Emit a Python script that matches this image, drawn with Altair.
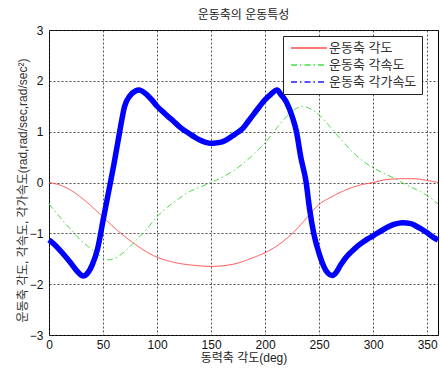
import altair as alt
import pandas as pd

# ---- data ----
S_ANG = "운동축 각도"
S_VEL = "운동축 각속도"
S_ACC = "운동축 각가속도"

ang_deg = [0, 10, 20, 30, 40, 50, 60, 70, 80, 90, 100, 110, 120, 130, 140, 150, 160, 170, 180,
           190, 200, 210, 220, 230, 240, 250, 260, 270, 280, 290, 300, 310, 320, 330, 340, 350, 360]
ang_val = [0.0, -0.05, -0.15, -0.3, -0.48, -0.68, -0.88, -1.06, -1.22, -1.36, -1.47, -1.54, -1.59,
           -1.62, -1.64, -1.65, -1.64, -1.61, -1.55, -1.47, -1.38, -1.26, -1.1, -0.9, -0.66, -0.43,
           -0.3, -0.19, -0.1, -0.04, 0.0, 0.05, 0.07, 0.075, 0.07, 0.04, 0.0]

vel_deg = [0, 10, 20, 30, 40, 50, 55, 60, 70, 80, 90, 100, 110, 120, 130, 140, 150, 160, 170, 180,
           190, 200, 210, 220, 230, 235, 240, 250, 260, 270, 280, 290, 300, 310, 320, 330, 340, 350, 360]
vel_val = [-0.42, -0.68, -0.92, -1.15, -1.32, -1.48, -1.52, -1.5, -1.36, -1.15, -0.93, -0.67, -0.48,
           -0.32, -0.18, -0.09, 0.0, 0.1, 0.22, 0.38, 0.57, 0.78, 1.05, 1.3, 1.47, 1.5, 1.47, 1.33,
           1.1, 0.85, 0.62, 0.43, 0.29, 0.18, 0.08, -0.04, -0.14, -0.26, -0.42]

acc_deg = [0, 5, 10, 15, 20, 25, 32, 35, 40, 45, 50, 55, 60, 65, 70, 75, 80, 83, 90, 95, 100, 105,
           110, 115, 120, 125, 130, 135, 140, 145, 150, 155, 160, 165, 170, 175, 180, 185, 190, 195,
           200, 205, 211, 215, 220, 225, 229, 233, 238, 241, 245, 250, 255, 258, 262, 265, 270, 275,
           280, 285, 290, 295, 300, 305, 310, 315, 320, 327, 335, 340, 345, 350, 355, 360]
acc_val = [-1.13, -1.22, -1.33, -1.45, -1.58, -1.72, -1.84, -1.8, -1.62, -1.3, -0.75, -0.2, 0.35,
           0.95, 1.5, 1.71, 1.8, 1.82, 1.74, 1.63, 1.5, 1.4, 1.3, 1.21, 1.11, 1.03, 0.96, 0.89, 0.83,
           0.79, 0.77, 0.78, 0.8, 0.85, 0.92, 0.99, 1.08, 1.22, 1.36, 1.5, 1.63, 1.73, 1.82, 1.72,
           1.57, 1.3, 1.0, 0.5, 0.0, -0.5, -1.0, -1.4, -1.68, -1.78, -1.83, -1.79, -1.62, -1.47,
           -1.36, -1.26, -1.18, -1.11, -1.05, -0.98, -0.92, -0.86, -0.82, -0.79, -0.81, -0.86, -0.92,
           -0.99, -1.07, -1.13]

x_ticks = [0, 50, 100, 150, 200, 250, 300, 350]
y_ticks = [-3, -2, -1, 0, 1, 2, 3]

series_order = [S_ANG, S_VEL, S_ACC]
series_colors = ["#ff4d4d", "#44e044", "#1a1aff"]
series_dash = [[1, 0], [6, 3, 1.5, 3], [6, 3, 1.5, 3]]

rows = []
for name, xs, ys in [(S_ANG, ang_deg, ang_val), (S_VEL, vel_deg, vel_val), (S_ACC, acc_deg, acc_val)]:
    for i, (xv, yv) in enumerate(zip(xs, ys)):
        rows.append({"series": name, "deg": xv, "val": yv, "order": i})
df = pd.DataFrame(rows)

FONT = "Liberation Sans, Arial, 'Noto Sans CJK KR'"

x_enc = alt.X("deg:Q", scale=alt.Scale(domain=[0, 360], nice=False),
              axis=alt.Axis(values=x_ticks, title="동력축 각도(deg)", titleFont=FONT,
                            titleFontSize=12, titleFontWeight="normal", titleColor="#222",
                            titleBaseline="alphabetic", titleY=26, labelFlush=False,
                            labelPadding=4))
y_enc = alt.Y("val:Q", scale=alt.Scale(domain=[-3, 3], nice=False),
              axis=alt.Axis(values=y_ticks,
                            title="운동축 각도, 각속도, 각가속도(rad,rad/sec,rad/sec²)",
                            titleFont=FONT, titleFontSize=12, titleFontWeight="normal",
                            titleColor="#333", titleBaseline="alphabetic", titleX=-23,
                            titleY=160, titleAngle=270, titleAlign="center",
                            labelPadding=6))

base = alt.Chart(df)

lines = base.mark_line(strokeWidth=1, interpolate="monotone").encode(
    x=x_enc,
    y=y_enc,
    order="order:Q",
    color=alt.Color("series:N", scale=alt.Scale(domain=series_order, range=series_colors),
                    legend=alt.Legend(title=None)),
    strokeDash=alt.StrokeDash("series:N", scale=alt.Scale(domain=series_order, range=series_dash),
                              legend=alt.Legend(title=None)),
)

thick = base.transform_filter(alt.datum.series == S_ACC).mark_line(
    strokeWidth=5.5, interpolate="monotone", color="#0000ff"
).encode(x="deg:Q", y="val:Q", order="order:Q")

chart = alt.layer(lines, thick).properties(
    width=389,
    height=305,
    autosize=alt.AutoSizeParams(type="none"),
    padding={"left": 49, "top": 30, "right": 2, "bottom": 33},
    title=alt.TitleParams("운동축의 운동특성", font=FONT, fontSize=12, fontWeight="normal",
                          color="#222", offset=2, anchor="middle"),
).configure_view(
    stroke="#000", strokeWidth=1
).configure_axis(
    labelFont=FONT, labelFontSize=12, labelColor="#111", ticks=False, domain=False,
    grid=True, gridColor="#333", gridDash=[2, 2], gridWidth=1, gridOpacity=0.85,
).configure_legend(
    orient="none", legendX=234, legendY=6, fillColor="#fff", strokeColor="#222",
    padding=5, symbolType="M-3,0H3", symbolSize=144, symbolStrokeWidth=1.3,
    symbolOffset=14, labelOffset=13, labelFont=FONT, labelFontSize=13, labelColor="#333",
    rowPadding=3, cornerRadius=0,
)

chart.save("out.html", embed_options={"renderer": "svg", "actions": False})
